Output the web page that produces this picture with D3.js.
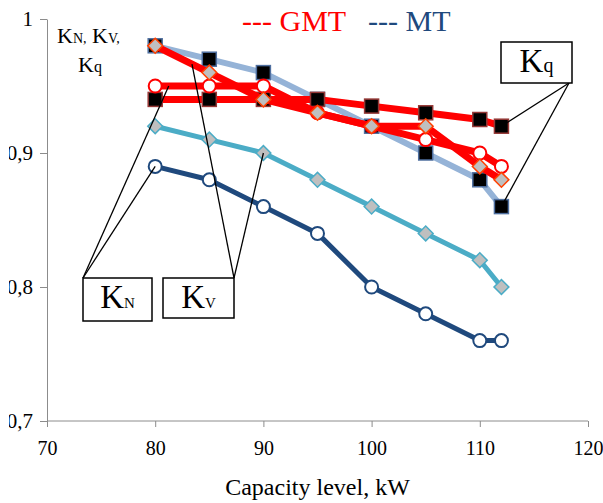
<!DOCTYPE html>
<html>
<head>
<meta charset="utf-8">
<script src="https://cdn.jsdelivr.net/npm/d3@7"></script>
<style>
  body { margin: 0; background: #fff; }
  #svg-container { width: 603px; height: 503px; }
  text { font-family: "Liberation Serif", "Times New Roman", serif; }
  .axis path, .axis line { stroke: #8c8c8c; }
  .axis text { font-size: 20px; fill: #000; }
  .y-axis text { font-size: 21px; }
</style>
</head>
<body>
<div id="svg-container"></div>
<script>
// data
const capacity = [80, 85, 90, 95, 100, 105, 110, 112];

const knMT = [0.89, 0.88, 0.86, 0.84, 0.80, 0.78, 0.76, 0.76];
const kvMT = [0.92, 0.91, 0.90, 0.88, 0.86, 0.84, 0.82, 0.80];
const kqMT = [0.98, 0.97, 0.96, 0.94, 0.92, 0.90, 0.88, 0.86];

const knGMT = [0.95, 0.95, 0.95, 0.93, 0.92, 0.91, 0.90, 0.89];
const kvGMT = [0.98, 0.96, 0.94, 0.93, 0.92, 0.92, 0.89, 0.88];
const kqGMT = [0.94, 0.94, 0.94, 0.94, 0.935, 0.93, 0.925, 0.92];

const xTicks = [70, 80, 90, 100, 110, 120];
const yTicks = [0.7, 0.8, 0.9, 1];

// series, drawn in this order
const series = [
  { name: "Kq MT", values: kqMT, line: "#95b3d7", width: 6, marker: "square", fill: "#000", stroke: "#4f6f9f" },
  { name: "Kv MT", values: kvMT, line: "#4bacc6", width: 5, marker: "diamond", fill: "#bfbfbf", stroke: "#4bacc6" },
  { name: "Kn MT", values: knMT, line: "#1f497d", width: 5, marker: "circle", fill: "#fff", stroke: "#1f497d" },
  { name: "Kq GMT", values: kqGMT, line: "#ff0000", width: 7, marker: "square", fill: "#000", stroke: "#953735" },
  { name: "Kn GMT", values: knGMT, line: "#ff0000", width: 7, marker: "circle", fill: "#fff", stroke: "#ff0000" },
  { name: "Kv GMT", values: kvGMT, line: "#ff0000", width: 7, marker: "diamond", fill: "#bfbfbf", stroke: "#ff4000" },
];

////////////////////////////  Init  ///////////////////////////////
const width = 603;
const height = 503;
const serif = "Liberation Serif, Times New Roman, serif";
const svg = d3.select("#svg-container").append("svg")
  .attr("width", width).attr("height", height);

const xScale = d3.scaleLinear().domain([70, 120]).range([47, 588]);
const yScale = d3.scaleLinear().domain([0.7, 1]).range([421, 19]);

const xAxis = d3.axisBottom(xScale).tickValues(xTicks).tickSize(6).tickSizeOuter(0);
const yAxis = d3.axisLeft(yScale).tickValues(yTicks).tickSize(7).tickSizeOuter(0)
  .tickFormat((d) => (d === 1 ? "1" : d3.format(".1f")(d).replace(".", ",")));

// left edge of the picture cuts the leading zero
svg.append("clipPath").attr("id", "clip-y")
  .append("rect").attr("x", 9).attr("y", 0).attr("width", 60).attr("height", height);

svg.append("g")
  .attr("class", "axis x-axis")
  .attr("transform", `translate(0,${yScale(0.7)})`)
  .call(xAxis)
  .attr("font-family", serif)
  .call((g) => g.selectAll("text").attr("dy", "0.95em").attr("y", 15));

svg.append("g")
  .attr("clip-path", "url(#clip-y)")
  .append("g")
  .attr("class", "axis y-axis")
  .attr("transform", `translate(${xScale(70)},0)`)
  .call(yAxis)
  .attr("font-family", serif)
  .call((g) => g.selectAll("text").attr("x", -14));

svg.select(".x-axis .domain").attr("d", `M${xScale(70)},0H${xScale(120)}`);

// x unit
svg.append("text")
  .attr("x", (xScale(70) + xScale(120)) / 2)
  .attr("y", 495)
  .attr("text-anchor", "middle")
  .attr("font-size", 24)
  .text("Capacity level, kW");

////////////////////////////  Lines  ///////////////////////////////
const line = d3.line()
  .x((d, i) => xScale(capacity[i]))
  .y((d) => yScale(d));

const diamond = d3.symbol().type(d3.symbolSquare).size(110);

series.forEach((s) => {
  const g = svg.append("g").attr("class", "series");
  g.append("path")
    .attr("d", line(s.values))
    .attr("fill", "none")
    .attr("stroke", s.line)
    .attr("stroke-width", s.width)
    .attr("stroke-linejoin", "round");

  const pts = g.selectAll(".pt")
    .data(s.values)
    .enter();

  if (s.marker === "square") {
    pts.append("rect")
      .attr("x", (d, i) => xScale(capacity[i]) - 7)
      .attr("y", (d) => yScale(d) - 7)
      .attr("width", 14).attr("height", 14)
      .attr("fill", s.fill).attr("stroke", s.stroke).attr("stroke-width", 1.5);
  } else if (s.marker === "circle") {
    pts.append("circle")
      .attr("cx", (d, i) => xScale(capacity[i]))
      .attr("cy", (d) => yScale(d))
      .attr("r", 6.5)
      .attr("fill", s.fill).attr("stroke", s.stroke).attr("stroke-width", 2);
  } else {
    pts.append("path")
      .attr("d", diamond)
      .attr("transform", (d, i) => `translate(${xScale(capacity[i])},${yScale(d)}) rotate(45)`)
      .attr("fill", s.fill).attr("stroke", s.stroke).attr("stroke-width", 1.5);
  }
});

////////////////////////////  Legend  ///////////////////////////////
const legend = svg.append("text").attr("y", 31).attr("font-size", 30);
legend.append("tspan").attr("x", 242).attr("fill", "#ff0000").text("--- GMT");
legend.append("tspan").attr("x", 368).attr("fill", "#1f497d").text("--- MT");

// y label
const yLab = svg.append("g").attr("font-size", 22);
const l1 = yLab.append("text").attr("x", 57).attr("y", 43);
l1.append("tspan").text("K");
l1.append("tspan").attr("font-size", 14).text("N,");
l1.append("tspan").text("  K");
l1.append("tspan").attr("font-size", 14).text("V,");
const l2 = yLab.append("text").attr("x", 78).attr("y", 72);
l2.append("tspan").text("K");
l2.append("tspan").attr("font-size", 16).text("q");

////////////////////////////  Callouts  ///////////////////////////////
const callouts = [
  { sub: "N", box: [83, 278, 69, 43], anchor: [83, 278], targets: [[knGMT, 80, 85, 0.25], [knMT, 80, 80, 0]] },
  { sub: "V", box: [163, 278, 71, 40], anchor: [234, 278], targets: [[kvGMT, 80, 85, 0.68], [kvMT, 90, 90, 0]] },
  { sub: "q", box: [501, 42, 71, 41], anchor: [569, 83], targets: [[kqGMT, 112, 112, 0], [kqMT, 112, 112, 0]] },
];

callouts.forEach((c) => {
  // leader lines to a spot on the series line
  c.targets.forEach(([vals, x0, x1, t]) => {
    const i0 = capacity.indexOf(x0);
    const i1 = capacity.indexOf(x1);
    const px = xScale(x0) + (xScale(x1) - xScale(x0)) * t;
    const py = yScale(vals[i0]) + (yScale(vals[i1]) - yScale(vals[i0])) * t;
    svg.append("line")
      .attr("x1", c.anchor[0]).attr("y1", c.anchor[1])
      .attr("x2", px).attr("y2", py)
      .attr("stroke", "#000").attr("stroke-width", 1.3);
  });

  svg.append("rect")
    .attr("x", c.box[0]).attr("y", c.box[1])
    .attr("width", c.box[2]).attr("height", c.box[3])
    .attr("fill", "#fff").attr("stroke", "#000").attr("stroke-width", 1.5);

  const t = svg.append("text")
    .attr("x", c.box[0] + c.box[2] / 2)
    .attr("y", c.box[1] + 30)
    .attr("text-anchor", "middle")
    .attr("font-size", 33);
  t.append("tspan").text("K");
  t.append("tspan").attr("font-size", c.sub === "q" ? 20 : 15).text(c.sub);
});
</script>
</body>
</html>
